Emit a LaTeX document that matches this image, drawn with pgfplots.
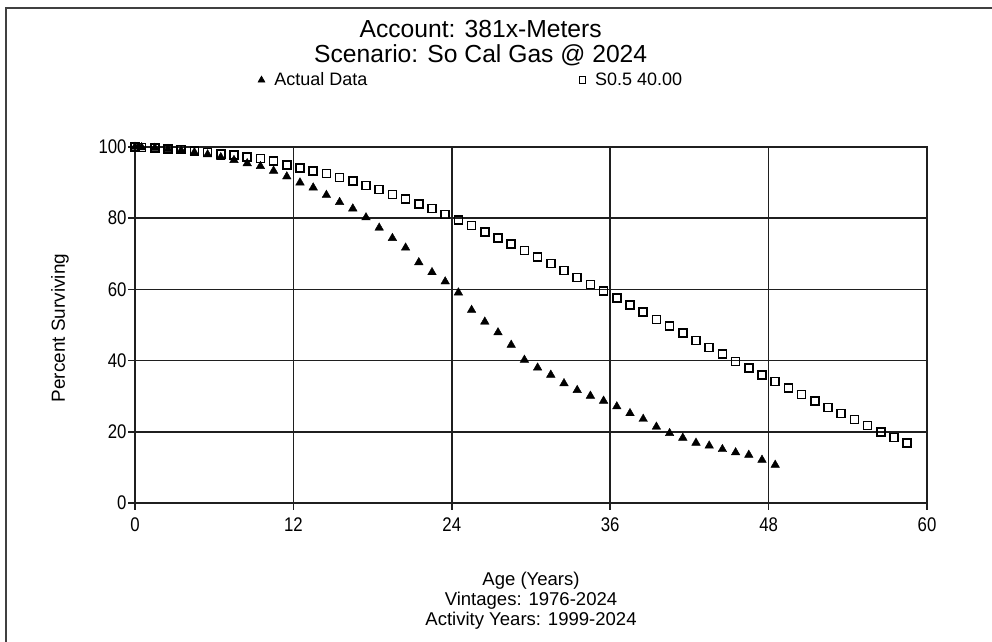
\documentclass[border=0pt]{standalone}
\usepackage{pgfplots}
\pgfplotsset{compat=1.18}
\usepackage{fontspec}
\setmainfont{Liberation Sans}
\newfontfamily\tickfont{Liberation Sans}[FakeStretch=0.85]

\definecolor{gridc}{gray}{0.12}

% Observed survivor curve (Actual Data), percent surviving by age
\pgfplotstableread{
age  pct
0    100.0
0.5  99.9
1.5  99.7
2.5  99.4
3.5  99.0
4.5  98.5
5.5  97.9
6.5  97.1
7.5  96.3
8.5  95.4
9.5  94.6
10.5 93.3
11.5 91.7
12.5 90.0
13.5 88.6
14.5 86.5
15.5 84.5
16.5 82.7
17.5 80.2
18.5 77.3
19.5 74.4
20.5 71.7
21.5 67.6
22.5 64.8
23.5 62.2
24.5 59.1
25.5 54.2
26.5 50.9
27.5 47.9
28.5 44.4
29.5 40.2
30.5 38.0
31.5 36.0
32.5 33.6
33.5 31.7
34.5 30.1
35.5 28.7
36.5 27.1
37.5 25.2
38.5 23.6
39.5 21.4
40.5 19.6
41.5 18.3
42.5 16.9
43.5 16.1
44.5 15.1
45.5 14.2
46.5 13.5
47.5 12.1
48.5 10.7
}\actual

% Fitted Iowa S0.5 curve, 40.00 year average life
\pgfplotstableread{
age  pct
0    100.0
0.5  99.9
1.5  99.7
2.5  99.5
3.5  99.3
4.5  98.9
5.5  98.5
6.5  98.1
7.5  97.7
8.5  97.2
9.5  96.7
10.5 96.1
11.5 95.0
12.5 94.1
13.5 93.3
14.5 92.5
15.5 91.4
16.5 90.4
17.5 89.2
18.5 88.0
19.5 86.7
20.5 85.4
21.5 84.0
22.5 82.7
23.5 81.1
24.5 79.5
25.5 77.9
26.5 76.1
27.5 74.4
28.5 72.7
29.5 70.9
30.5 69.1
31.5 67.3
32.5 65.3
33.5 63.4
34.5 61.4
35.5 59.5
36.5 57.6
37.5 55.6
38.5 53.6
39.5 51.6
40.5 49.7
41.5 47.7
42.5 45.7
43.5 43.7
44.5 41.8
45.5 39.8
46.5 37.9
47.5 36.0
48.5 34.2
49.5 32.3
50.5 30.5
51.5 28.7
52.5 26.9
53.5 25.1
54.5 23.4
55.5 21.7
56.5 20.0
57.5 18.4
58.5 16.8
}\iowa

\begin{document}
\begin{tikzpicture}
\path[use as bounding box] (0,0) rectangle (744pt,-481.5pt);
% outer frame
\draw[line width=1.5pt, black!75] (4.5pt,-481.5pt) -- (4.5pt,-6.2pt) -- (744pt,-6.2pt);

\node[font=\fontsize{18.5}{19}\selectfont, align=center] at (360.5pt,-32.5pt)
  {Account: 381x-Meters\\Scenario: So Cal Gas @ 2024};

\begin{axis}[
  at={(101.25pt,-377.25pt)}, anchor=south west,
  scale only axis, width=594pt, height=267pt,
  xmin=0, xmax=60, ymin=0, ymax=100,
  xtick={0,12,...,60}, ytick={0,20,...,100},
  grid=major,
  major grid style={line width=1.2pt, gridc},
  axis line style={line width=1.2pt, gridc},
  tick style={line width=1.2pt, gridc},
  tick pos=left, tick align=outside, major tick length=5pt,
  ticklabel style={font=\tickfont\fontsize{14.8}{17}\selectfont},
  yticklabel style={xshift=2.2pt},
  xticklabel style={yshift=-2.5pt},
  /pgf/number format/assume math mode=true,
  clip=false,
  xlabel={Age (Years)\\Vintages: 1976-2024\\Activity Years: 1999-2024},
  xlabel style={at={(axis description cs:0.5,-0.194)}, anchor=north,
    align=center, inner sep=0pt, font=\fontsize{13.9}{15}\selectfont},
  ylabel={Percent Surviving},
  ylabel style={at={(axis description cs:-0.0947,0.4916)}, anchor=center,
    font=\fontsize{14.2}{17}\selectfont},
  legend style={at={(axis description cs:0.155,1.188)}, anchor=west,
    draw=none, fill=none, inner sep=0pt,
    font=\fontsize{13.5}{16}\selectfont,
    legend columns=2,
    /tikz/every odd column/.append style={column sep=5pt},
    /tikz/every even column/.append style={column sep=157pt}},
  legend image code/.code={\draw[#1] plot coordinates {(0pt,0pt)};},
]
\addlegendimage{only marks, mark=triangle*, mark size=3pt, black}
\addlegendentry{Actual Data}
\addlegendimage{only marks, mark=square, mark size=2.4pt, black, line width=0.8pt}
\addlegendentry{S0.5 40.00}

\addplot[forget plot, only marks, mark=square, mark size=3pt, black,
  mark options={line width=1.1pt}] table[x=age, y=pct] {\iowa};
\addplot[forget plot, only marks, mark=triangle*, mark size=3.7pt, black,
  mark options={line width=0.3pt}] table[x=age, y=pct] {\actual};
\end{axis}
\end{tikzpicture}
\end{document}
